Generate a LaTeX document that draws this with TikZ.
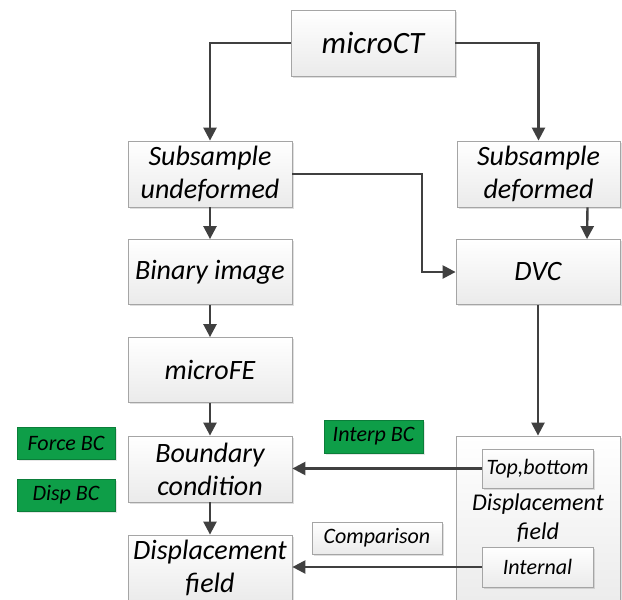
\documentclass[tikz,border=0pt]{standalone}
\usepackage{fontspec}
\setmainfont{Carlito}
\usepackage{tikz}
\usetikzlibrary{arrows.meta,shadows}
\definecolor{arrgray}{RGB}{64,64,64}
\definecolor{boxline}{RGB}{165,165,165}
\definecolor{bcgreen}{RGB}{14,158,72}

\begin{document}
\begin{tikzpicture}[x=1pt,y=-1pt,
            box/.style={draw=boxline,line width=0.8pt,top color=white,bottom color=gray!16,
                drop shadow={shadow xshift=1.5pt,shadow yshift=-1.5pt,opacity=0.25},
                align=center,inner sep=0pt,font=\fontsize{28}{33}\selectfont\itshape},
            smallbox/.style={box,font=\fontsize{22}{26}\selectfont\itshape},
            greenbox/.style={draw=bcgreen!80!black,line width=0.6pt,fill=bcgreen,
                drop shadow={shadow xshift=1.5pt,shadow yshift=-1.5pt,opacity=0.2},
                minimum width=98pt,minimum height=32pt,inner sep=0pt,
                font=\fontsize{22}{26}\selectfont\itshape},
            arr/.style={draw=arrgray,line width=2.4pt,-{Triangle[length=13pt,width=13pt]}}]
            \useasboundingbox (0,0) rectangle (622,600);

            \node[box,minimum width=164pt,minimum height=66pt,font=\fontsize{31}{33}\selectfont\itshape] (ct) at (373,43) {microCT};
            \node[box,minimum width=164pt,minimum height=66pt] (sub1) at (210,174) {Subsample\\undeformed};
            \node[box,minimum width=163pt,minimum height=66pt] (sub2) at (538.5,174) {Subsample\\deformed};
            \node[box,minimum width=164pt,minimum height=65pt] (bin) at (210,272) {Binary image};
            \node[box,minimum width=164pt,minimum height=65pt] (dvc) at (538,272) {DVC};
            \node[box,minimum width=164pt,minimum height=65pt] (fe) at (210,370) {microFE};
            \node[box,minimum width=164pt,minimum height=66pt] (bc) at (210,469) {Boundary\\condition};
            \node[box,minimum width=164pt,minimum height=66pt] (disp) at (210,568) {Displacement\\field};

            \node[box,minimum width=164pt,minimum height=176pt] (field) at (538,524) {};
            \node[font=\fontsize{24}{29}\selectfont\itshape,align=center] (fieldlbl) at (538,518) {Displacement\\field};
            \node[smallbox,minimum width=111pt,minimum height=39pt] (tb) at (537.5,468.5) {Top,bottom};
            \node[smallbox,minimum width=111pt,minimum height=40pt] (int) at (537.5,567) {Internal};
            \node[smallbox,minimum width=130pt,minimum height=32pt] (cmp) at (377,538) {Comparison};

            \node[greenbox] (force) at (66,443) {Force BC};
            \node[greenbox] (dbc) at (66,495) {Disp BC};
            \node[greenbox,minimum width=99pt,minimum height=33pt] (ibc) at (373.5,436.5) {Interp BC};

            \coordinate (bend) at (422,272);

            \draw[arr] (ct.west) -| (sub1.north);
            \draw[arr] (ct.east) -| (sub2.north);
            \draw[arr] (sub1) -- (bin);
            \draw[arr] (bin) -- (fe);
            \draw[arr] (fe) -- (bc);
            \draw[arr] (bc) -- (disp);
            \draw[arr] (sub1.east) -| (bend) -- (dvc.west);
            \draw[arr] ([xshift=49pt]sub2.south) -- ([xshift=49pt]dvc.north);
            \draw[arr] (dvc) -- (field);
            \draw[arr] (tb.west) -- (tb.west -| bc.east);
            \draw[arr] (int.west) -- (int.west -| disp.east);
        \end{tikzpicture}
\end{document}
